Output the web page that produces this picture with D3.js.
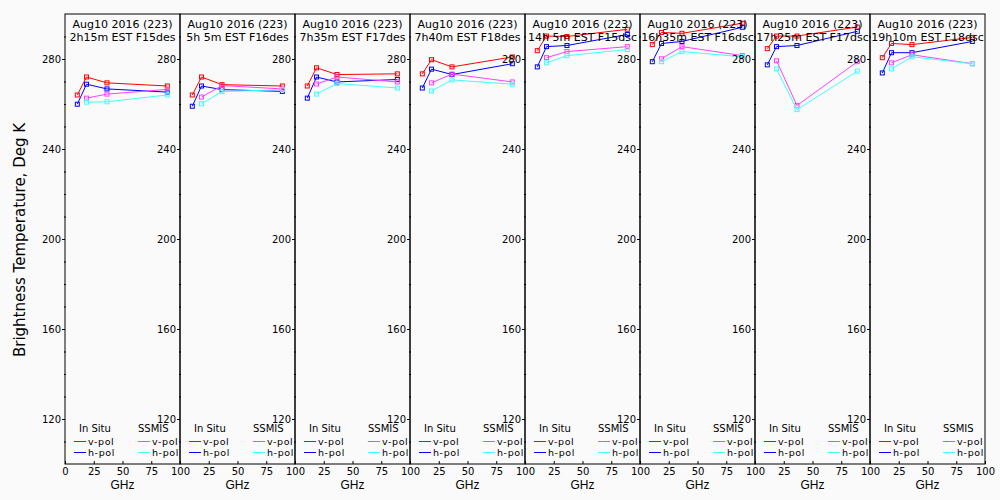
<!DOCTYPE html>
<html>
<head>
<meta charset="utf-8">
<script src="https://cdn.jsdelivr.net/npm/d3@7"></script>
<style>
  body { margin: 0; background: #fafafa; }
  svg { font-family: 'DejaVu Sans', sans-serif; }
</style>
</head>
<body>
<svg width="1000" height="500"></svg>
<script>
// frequencies (GHz)
const inSituFreq = [10.7, 18.7, 36.5, 89]
const ssmisFreq = [18.7, 36.5, 89]

const titleDate = 'Aug10 2016 (223)'
const titleTimes = [
  '2h15m EST F15des', '5h 5m EST F16des', '7h35m EST F17des', '7h40m EST F18des',
  '14h 5m EST F15dsc', '16h35m EST F16dsc', '17h25m EST F17dsc', '19h10m EST F18dsc'
]

// brightness temperatures, one row per panel
const inSituV = [
  [264.0, 272.0, 269.4, 268.0],
  [264.0, 272.0, 268.6, 268.0],
  [268.0, 276.1, 273.1, 273.4],
  [273.4, 279.7, 276.5, 280.9],
  [283.7, 290.2, 290.0, 293.2],
  [286.4, 291.8, 291.4, 295.9],
  [284.6, 290.2, 290.2, 294.2],
  [280.6, 286.9, 286.4, 289.6]
]
const inSituH = [
  [259.9, 268.8, 266.7, 265.3],
  [259.0, 268.0, 266.4, 265.6],
  [262.6, 272.0, 269.8, 270.9],
  [267.1, 275.5, 273.1, 277.9],
  [276.5, 285.5, 286.0, 290.9],
  [278.8, 286.9, 287.8, 294.1],
  [277.4, 285.5, 286.0, 292.3],
  [273.8, 282.8, 282.8, 287.8]
]
const ssmisV = [
  [262.6, 264.4, 266.5],
  [263.1, 268.2, 266.7],
  [268.9, 272.0, 269.8],
  [269.4, 273.3, 269.8],
  [280.6, 283.3, 285.5],
  [280.1, 285.5, 281.5],
  [279.2, 259.3, 278.8],
  [278.3, 281.9, 277.9]
]
const ssmisH = [
  [260.8, 261.0, 264.0],
  [260.1, 265.5, 266.4],
  [264.4, 269.1, 267.1],
  [265.8, 270.7, 268.8],
  [278.3, 281.5, 284.2],
  [278.8, 283.3, 281.0],
  [275.6, 257.5, 274.6],
  [275.6, 281.0, 277.9]
]

const xTicks = [0, 25, 50, 75, 100]
const yMajorTicks = [120, 160, 200, 240, 280]

const colors = { inV: '#ff0000', inH: '#0000ff', ssV: '#ff40ff', ssH: '#40ffff' }

const svg = d3.select('svg')

const plotLeft = 65
const panelW = 115
const plotTop = 14
const plotBottom = 464

const yScale = d3.scaleLinear().domain([100, 300]).range([plotBottom, plotTop])
const xScale = d3.scaleLinear().domain([0, 100]).range([0, panelW])

const line = d3.line()
  .x(d => xScale(d[0]))
  .y(d => yScale(d[1]))

const drawSeries = (g, freqs, values, color) => {
  const pts = d3.zip(freqs, values)
  g.append('path')
    .datum(pts)
    .attr('d', line)
    .attr('fill', 'none')
    .attr('stroke', color)
    .attr('stroke-width', 1)
  g.selectAll(null).data(pts)
    .enter().append('rect')
    .attr('x', d => xScale(d[0]) - 2)
    .attr('y', d => yScale(d[1]) - 2)
    .attr('width', 4)
    .attr('height', 4)
    .attr('fill', 'none')
    .attr('stroke', color)
    .attr('stroke-width', 1)
}

titleTimes.forEach((t, i) => {
  const g = svg.append('g')
    .attr('transform', `translate(${plotLeft + i * panelW}, 0)`)

  // data
  drawSeries(g, inSituFreq, inSituV[i], colors.inV)
  drawSeries(g, inSituFreq, inSituH[i], colors.inH)
  drawSeries(g, ssmisFreq, ssmisV[i], colors.ssV)
  drawSeries(g, ssmisFreq, ssmisH[i], colors.ssH)

  // frame
  g.append('rect')
    .attr('x', 0).attr('y', plotTop)
    .attr('width', panelW).attr('height', plotBottom - plotTop)
    .attr('fill', 'none')
    .attr('stroke', '#000')
    .attr('stroke-width', 1)

  // y axis: major ticks with labels, minor ticks every 10
  const yAxis = d3.axisLeft(yScale)
    .tickValues(yMajorTicks)
    .tickSize(3)
    .tickPadding(1)
  const yAxisG = g.append('g').call(yAxis)
  yAxisG.select('.domain').remove()
  yAxisG.selectAll('text').style('font-size', '10px').style('font-family', 'DejaVu Sans')

  const yMinor = d3.axisLeft(yScale)
    .tickValues(d3.range(110, 300, 10).filter(v => !yMajorTicks.includes(v)))
    .tickSize(-2)
    .tickFormat('')
  const yMinorG = g.append('g').attr('transform', 'translate(-1,0)').call(yMinor)
  yMinorG.select('.domain').remove()

  // x axis
  const xAxis = d3.axisBottom(xScale)
    .tickValues(i === 0 ? xTicks : xTicks.slice(1))
    .tickSize(-3)
    .tickPadding(4)
  const xAxisG = g.append('g')
    .attr('transform', `translate(0, ${plotBottom})`)
    .call(xAxis)
  xAxisG.select('.domain').remove()
  xAxisG.selectAll('text').style('font-size', '10px').style('font-family', 'DejaVu Sans')

  xAxisG.append('text')
    .attr('x', panelW / 2)
    .attr('y', 25)
    .attr('fill', '#000')
    .attr('text-anchor', 'middle')
    .style('font-size', '12px')
    .text('GHz')

  // panel titles
  g.append('text')
    .attr('x', panelW / 2).attr('y', 28)
    .attr('text-anchor', 'middle')
    .style('font-size', '11px')
    .text(titleDate)
  g.append('text')
    .attr('x', panelW / 2).attr('y', 41)
    .attr('text-anchor', 'middle')
    .style('font-size', '11px')
    .text(t)

  // legend
  const leg = g.append('g')
  leg.append('text').attr('x', 14).attr('y', 432).style('font-size', '10px').text('In Situ')
  leg.append('text').attr('x', 73).attr('y', 432).style('font-size', '10px').text('SSMIS')
  const rows = [
    { x: 9, y: 441.5, color: colors.inV, label: 'v-pol' },
    { x: 9, y: 452.5, color: colors.inH, label: 'h-pol' },
    { x: 73, y: 441.5, color: colors.ssV, label: 'v-pol' },
    { x: 73, y: 452.5, color: colors.ssH, label: 'h-pol' }
  ]
  rows.forEach(r => {
    leg.append('line')
      .attr('x1', r.x).attr('x2', r.x + 12)
      .attr('y1', r.y).attr('y2', r.y)
      .attr('stroke', r.color)
    leg.append('text')
      .attr('x', r.x + 14).attr('y', r.y + 3.5)
      .style('font-size', '9.5px')
      .style('letter-spacing', '0.6px')
      .text(r.label)
  })
})

svg.append('text')
  .attr('transform', `translate(25, ${(plotTop + plotBottom) / 2 + 1}) rotate(-90)`)
  .attr('text-anchor', 'middle')
  .style('font-size', '15px')
  .text('Brightness Temperature, Deg K')
</script>
</body>
</html>
